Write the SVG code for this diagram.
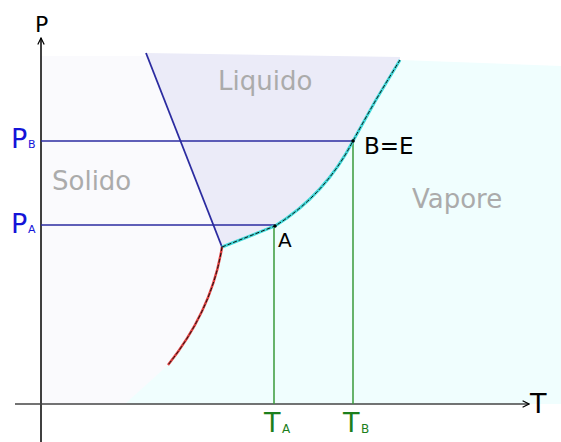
<svg xmlns="http://www.w3.org/2000/svg" width="561" height="442" viewBox="0 0 561 442">
<defs>
<style>
.region{fill:#ababab;font-family:"DejaVu Sans",sans-serif;font-size:26px}
.blue{fill:#1414d8;font-family:"DejaVu Sans",sans-serif}
.green{fill:#1c7f1c;font-family:"DejaVu Sans",sans-serif}
.blk{fill:#000;font-family:"DejaVu Sans",sans-serif}
.hl{stroke:#2b2ba0;stroke-width:1.5;fill:none}
.vl{stroke:#3a9a3a;stroke-width:1.5;fill:none}
</style>
<marker id="arr" viewBox="0 0 10 10" refX="9" refY="5" markerWidth="8" markerHeight="8" orient="auto-start-reverse" markerUnits="userSpaceOnUse">
<path d="M1,1 L9,5 L1,9" fill="none" stroke="#000" stroke-width="1.5"/>
</marker>
</defs>
<rect width="561" height="442" fill="#fff"/>
<g id="regions">
<rect id="solid-fill" x="41" y="56" width="200" height="348" fill="#fafafd"/>
<path id="liquid-fill" d="M146,53 L222,247 L275,226 Q325,195 353,141 Q375,100 400,60 L400,57 Z" fill="#ebebf8"/>
<path id="vapor-fill" d="M222,247 L275,226 Q325,195 353,141 Q375,100 400,60 L561,66 L561,404 L125,404 L168,365 Q210,310 222,247 Z" fill="#f0fefe"/>
</g>
<g id="connectors">
<line x1="41" y1="442" x2="41" y2="38" stroke="#000" stroke-width="1.5" marker-end="url(#arr)"/>
<line x1="15" y1="404" x2="529" y2="404" stroke="#444" stroke-width="1.5" marker-end="url(#arr)"/>
<line class="hl" x1="41" y1="141" x2="353" y2="141"/>
<line class="hl" x1="41" y1="225" x2="275" y2="225"/>
<line class="vl" x1="274" y1="226" x2="274" y2="404"/>
<line class="vl" x1="353" y1="141" x2="353" y2="404"/>
<line x1="146" y1="53" x2="222" y2="247" stroke="#2b2ba0" stroke-width="1.8"/>
<path d="M222,247 L275,226 Q325,195 353,141 Q375,100 400,60" fill="none" stroke="#40d8d8" stroke-width="3"/>
<path d="M222,247 L275,226 Q325,195 353,141 Q375,100 400,60" fill="none" stroke="#111" stroke-width="1" stroke-dasharray="4 2"/>
<path d="M222,247 Q212,310 168,365" fill="none" stroke="#e04040" stroke-width="2.5"/>
<path d="M222,247 Q212,310 168,365" fill="none" stroke="#111" stroke-width="1" stroke-dasharray="4 2"/>
<circle cx="275" cy="226" r="1.8" fill="#000"/>
<circle cx="353" cy="141" r="1.8" fill="#000"/>
</g>
<g id="labels">
<text class="blk" x="35" y="32" font-size="22">P</text>
<text class="blk" x="530" y="413" font-size="27">T</text>
<text class="blue" x="11" y="148" font-size="27">P</text>
<text class="blue" x="28" y="148" font-size="11">B</text>
<text class="blue" x="11" y="233" font-size="27">P</text>
<text class="blue" x="28" y="233" font-size="11">A</text>
<text class="green" x="264" y="432" font-size="27">T</text>
<text class="green" x="282" y="433" font-size="12">A</text>
<text class="green" x="343" y="432" font-size="27">T</text>
<text class="green" x="361" y="433" font-size="12">B</text>
<text class="blk" x="278" y="247" font-size="20">A</text>
<text class="blk" x="364" y="154" font-size="23">B=E</text>
<text class="region" x="52" y="190">Solido</text>
<text class="region" x="218" y="90">Liquido</text>
<text class="region" x="412" y="208">Vapore</text>
</g>
</svg>
